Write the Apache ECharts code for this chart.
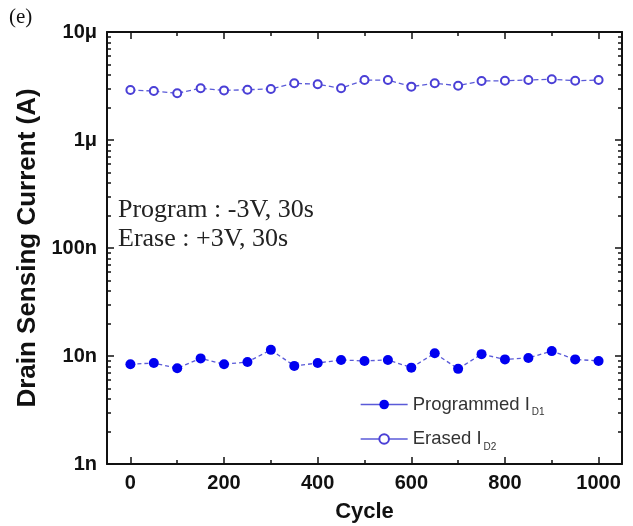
<!DOCTYPE html>
<html>
<head>
<meta charset="utf-8">
<script src="https://cdn.jsdelivr.net/npm/echarts@6/dist/echarts.min.js"></script>
<style>
  html, body { margin: 0; padding: 0; background: #fff; }
  #chart { width: 633px; height: 526px; }
</style>
</head>
<body>
<div id="chart"></div>
<script>
// Endurance cycling: drain sensing current after program / erase pulses
const cycles = [0, 50, 100, 150, 200, 250, 300, 350, 400, 450, 500,
                550, 600, 650, 700, 750, 800, 850, 900, 950, 1000];
const programmedID1 = [8.4e-9, 8.6e-9, 7.7e-9, 9.5e-9, 8.4e-9, 8.8e-9, 1.14e-8,
                       8.1e-9, 8.6e-9, 9.2e-9, 9.0e-9, 9.2e-9, 7.8e-9, 1.06e-8,
                       7.6e-9, 1.04e-8, 9.3e-9, 9.6e-9, 1.11e-8, 9.3e-9, 9.0e-9];
const erasedID2 = [2.90e-6, 2.84e-6, 2.71e-6, 3.01e-6, 2.88e-6, 2.92e-6, 2.97e-6,
                   3.35e-6, 3.28e-6, 3.01e-6, 3.59e-6, 3.59e-6, 3.12e-6, 3.35e-6,
                   3.18e-6, 3.52e-6, 3.54e-6, 3.59e-6, 3.65e-6, 3.54e-6, 3.59e-6];

const xMajorTicks = [0, 200, 400, 600, 800, 1000];
const xMinorTicks = [100, 300, 500, 700, 900];
const yMajorTicks = [1e-9, 1e-8, 1e-7, 1e-6, 1e-5];
const yTickLabels = ['1n', '10n', '100n', '1μ', '10μ'];
const seriesNames = ['Programmed', 'Erased'];

// log minor ticks: 2..9 within each decade
const yMinorTicks = [];
for (let d = 0; d < yMajorTicks.length - 1; d++) {
  for (let m = 2; m <= 9; m++) yMinorTicks.push(+(m * yMajorTicks[d]).toPrecision(3));
}

const AX = '#111';
const labelFont = { fontFamily: 'Liberation Sans, Arial', fontWeight: 'bold', fontSize: 20, color: '#111' };

function yLabel(v) {
  let best = 0, bd = Infinity;
  yMajorTicks.forEach((t, i) => {
    const d = Math.abs(Math.log10(v) - Math.log10(t));
    if (d < bd) { bd = d; best = i; }
  });
  return yTickLabels[best];
}

function xAxisDef(pos, ticks, len, showLine, showLabel, extra) {
  return Object.assign({
    type: 'value', position: pos, min: -50, max: 1050, gridIndex: 0,
    axisLine: { show: showLine, onZero: false, lineStyle: { color: AX, width: 2 } },
    axisTick: { show: true, inside: true, length: len, customValues: ticks, lineStyle: { color: AX, width: 1.5 } },
    axisLabel: showLabel
      ? Object.assign({ show: true, customValues: ticks, margin: 9, formatter: v => String(v) }, labelFont)
      : { show: false },
    splitLine: { show: false }
  }, extra || {});
}

function yAxisDef(pos, ticks, len, showLine, showLabel, extra) {
  return Object.assign({
    type: 'log', logBase: 10, position: pos, min: 1e-9, max: 1e-5, gridIndex: 0,
    axisLine: { show: showLine, onZero: false, lineStyle: { color: AX, width: 2 } },
    axisTick: { show: true, inside: true, length: len, customValues: ticks, lineStyle: { color: AX, width: 1.5 } },
    axisLabel: showLabel ? Object.assign({ show: true, customValues: ticks, margin: 10, formatter: yLabel }, labelFont) : { show: false },
    splitLine: { show: false }
  }, extra || {});
}

const chart = echarts.init(document.getElementById('chart'), null, { renderer: 'canvas' });

chart.setOption({
  animation: false,
  backgroundColor: '#fff',
  grid: { left: 107, right: 11, top: 32, bottom: 62, containLabel: false, outerBoundsMode: 'none' },
  xAxis: [
    xAxisDef('bottom', xMajorTicks, 7, true, true, {
      name: 'Cycle', nameLocation: 'middle', nameGap: 37,
      nameTextStyle: { fontFamily: 'Liberation Sans, Arial', fontWeight: 'bold', fontSize: 22, color: '#111' }
    }),
    xAxisDef('bottom', xMinorTicks, 4, false, false),
    xAxisDef('top', xMajorTicks, 7, true, false),
    xAxisDef('top', xMinorTicks, 4, false, false)
  ],
  yAxis: [
    yAxisDef('left', yMajorTicks, 7, true, true, {
      name: 'Drain Sensing Current (A)', nameLocation: 'middle', nameGap: 61, nameRotate: 90,
      nameTextStyle: { fontFamily: 'Liberation Sans, Arial', fontWeight: 'bold', fontSize: 26, color: '#111' }
    }),
    yAxisDef('left', yMinorTicks, 4, false, false),
    yAxisDef('right', yMajorTicks, 7, true, false),
    yAxisDef('right', yMinorTicks, 4, false, false)
  ],
  legend: {
    orient: 'vertical', left: 355, top: 390, itemGap: 12,
    itemWidth: 47, itemHeight: 12,
    data: seriesNames,
    lineStyle: { type: 'solid', width: 1.3 },
    formatter: function (name) {
      return name === 'Programmed' ? '{a|Programmed I}{s|D1}' : '{a|Erased I}{s|D2}';
    },
    textStyle: {
      fontFamily: 'Liberation Sans, Arial', fontSize: 18.5, color: '#333',
      rich: {
        a: { fontFamily: 'Liberation Sans, Arial', fontSize: 18.5, color: '#333' },
        s: { fontFamily: 'Liberation Sans, Arial', fontSize: 10, color: '#333', padding: [16, 0, 0, 2] }
      }
    }
  },
  graphic: [
    { type: 'text', left: 9, top: 7, style: { text: '(e)', font: '21px "Liberation Serif", "Times New Roman"', fill: '#111' } },
    { type: 'text', x: 118, y: 210, style: { text: 'Program : -3V, 30s', font: '26px "Liberation Serif", "Times New Roman"', fill: '#222', verticalAlign: 'middle' } },
    { type: 'text', x: 118, y: 239, style: { text: 'Erase : +3V, 30s', font: '26px "Liberation Serif", "Times New Roman"', fill: '#222', verticalAlign: 'middle' } }
  ],
  series: [
    {
      name: 'Programmed', type: 'line', xAxisIndex: 0, yAxisIndex: 0,
      data: cycles.map((c, i) => [c, programmedID1[i]]),
      symbol: 'circle', symbolSize: 10,
      itemStyle: { color: '#0000f0' },
      lineStyle: { color: '#5a5ad8', width: 1.3, type: [4, 3] }
    },
    {
      name: 'Erased', type: 'line', xAxisIndex: 0, yAxisIndex: 0,
      data: cycles.map((c, i) => [c, erasedID2[i]]),
      symbol: 'emptyCircle', symbolSize: 8,
      itemStyle: { color: '#4a3fd6', borderWidth: 1.6 },
      lineStyle: { color: '#5a5ad8', width: 1.3, type: [5, 3] }
    }
  ]
});
</script>
</body>
</html>
